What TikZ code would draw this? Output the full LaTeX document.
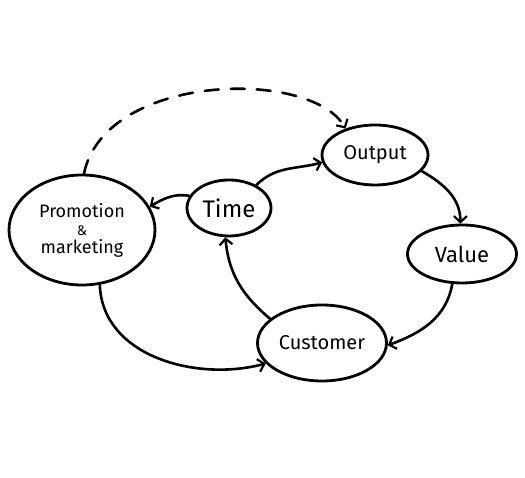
\documentclass[tikz,border=0pt]{standalone}
\usepackage{fontspec}
\setmainfont{Fira Sans}
\usetikzlibrary{arrows.meta,shapes.geometric}
\begin{document}
\begin{tikzpicture}[x=1pt,y=1pt,
  bubble/.style={draw=black,line width=2.8pt,ellipse,inner sep=0pt,align=center,font=\fontsize{20}{21}\selectfont},
  link/.style={draw=black,line width=2.6pt,line cap=round,-{Straight Barb[length=6pt,width=13pt,line width=2.2pt]}}]
\useasboundingbox (0,0) rectangle (525,478);
\fill[white] (0,0) rectangle (525,478);
\node[bubble,minimum width=146pt,minimum height=110pt] (promo) at (82,248)
  {\fontsize{18}{18}\selectfont Promotion\\[-3pt]{\fontsize{14}{14}\selectfont\&}\\[-3pt]\fontsize{18}{18}\selectfont marketing};
\node[bubble,minimum width=84pt,minimum height=56pt,font=\fontsize{24}{25}\selectfont] (time) at (229,270) {Time};
\node[bubble,minimum width=106pt,minimum height=60pt] (output) at (375,323) {Output};
\node[bubble,minimum width=109pt,minimum height=58pt,font=\fontsize{22}{23}\selectfont] (value) at (462,224) {Value};
\node[bubble,minimum width=129pt,minimum height=76pt] (customer) at (322,135) {Customer};
\draw[link,dashed,dash pattern=on 14pt off 12pt] (promo.88) .. controls (105,405) and (310,410) .. (output.138);
\draw[link] (time.40) to[out=45,in=195] (output.188);
\draw[link] (time.163) to[out=170,in=30] (promo.19);
\draw[link] (output.-19) to[out=-30,in=90] (value.93);
\draw[link] (value.-108) to[out=-100,in=20] (customer.-2);
\draw[link] (customer.155) to[out=140,in=-85] (time.-97);
\draw[link] (promo.-72) to[out=-88,in=195] (customer.200);
\end{tikzpicture}
\end{document}
